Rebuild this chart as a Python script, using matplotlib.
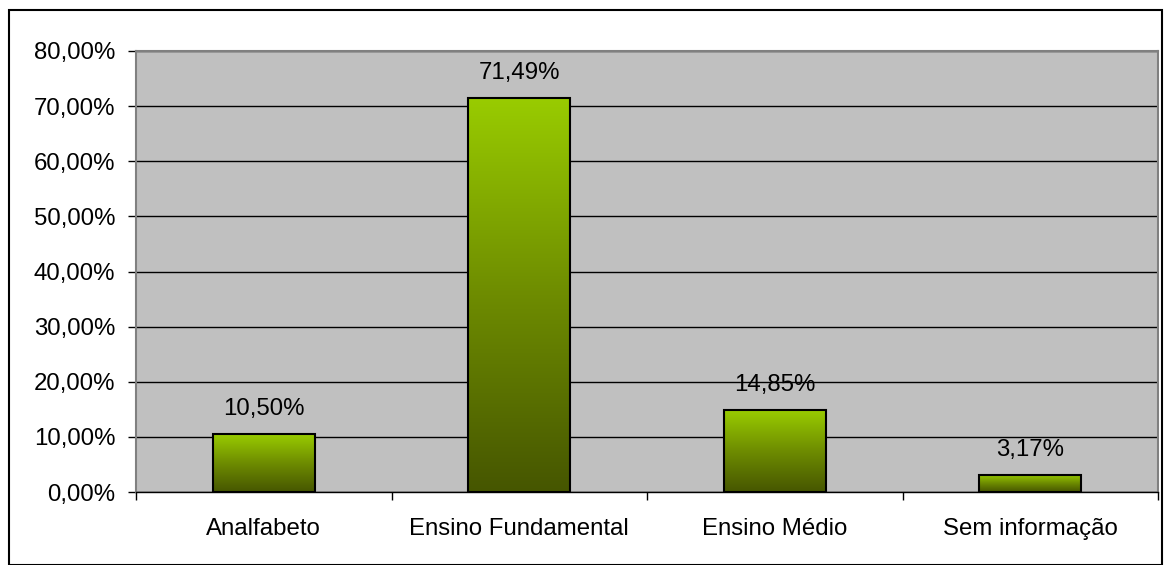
import numpy as np
import matplotlib
matplotlib.use("Agg")
import matplotlib.pyplot as plt
from matplotlib.colors import LinearSegmentedColormap
from matplotlib.patches import Rectangle

categories = ["Analfabeto", "Ensino Fundamental", "Ensino Médio", "Sem informação"]
values = [10.50, 71.49, 14.85, 3.17]
labels = ["10,50%", "71,49%", "14,85%", "3,17%"]
yticks = [0, 10, 20, 30, 40, 50, 60, 70, 80]
ytick_labels = ["0,00%", "10,00%", "20,00%", "30,00%", "40,00%", "50,00%", "60,00%", "70,00%", "80,00%"]

plt.rcParams['font.family'] = ['Liberation Sans', 'DejaVu Sans']
FS = 17.3

fig = plt.figure(figsize=(11.64, 5.65), dpi=100)
ax = fig.add_axes([136/1164, 1-492/565, (1158-136)/1164, (492-51)/565])
ax.set_facecolor('#c0c0c0')

cmap = LinearSegmentedColormap.from_list('g', ['#465600', '#6e8c00', '#99cc00'])
grad = np.linspace(0, 1, 256).reshape(-1, 1)
x = np.arange(len(categories))
width = 0.4
for xi, v, lab in zip(x, values, labels):
    im = ax.imshow(grad, cmap=cmap, aspect='auto', origin='lower',
                   extent=[xi - width/2, xi + width/2, 0, v], zorder=3)
    rect = Rectangle((xi - width/2, 0), width, v, facecolor='none',
                     edgecolor='black', linewidth=1.5, zorder=4)
    ax.add_patch(rect)
    im.set_clip_path(rect)
    ax.text(xi, v + 2.5, lab, ha='center', va='bottom', fontsize=FS, zorder=5)

ax.set_xlim(-0.5, len(categories) - 0.5)
ax.set_ylim(0, 80)
ax.set_yticks(yticks)
ax.set_yticklabels(ytick_labels, fontsize=FS)
ax.set_xticks(x)
ax.set_xticklabels(categories, fontsize=FS)
ax.set_xticks(np.arange(len(categories) + 1) - 0.5, minor=True)
ax.tick_params(axis='x', which='major', length=0, pad=19)
ax.tick_params(axis='x', which='minor', length=6, width=1, color='black', direction='out')
ax.tick_params(axis='y', length=6, width=1, color='black', direction='out', pad=9)
ax.yaxis.grid(True, color='black', linewidth=1)
ax.set_axisbelow(True)
for s in ['top', 'right']:
    ax.spines[s].set_color('#808080')
    ax.spines[s].set_linewidth(1.5)
ax.spines['left'].set_color('#808080')
ax.spines['left'].set_linewidth(1.5)
ax.spines['bottom'].set_color('black')
ax.spines['bottom'].set_linewidth(1)

fig.patches.append(Rectangle((9/1164, 0), (1162-9)/1164, 1 - 10/565, transform=fig.transFigure,
                             facecolor='none', edgecolor='black', linewidth=1.5))

fig.savefig('out.png', dpi=100)
